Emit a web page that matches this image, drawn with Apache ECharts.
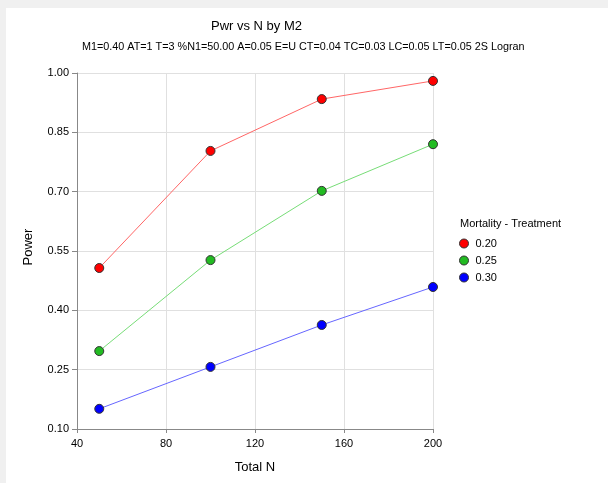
<!DOCTYPE html>
<html><head><meta charset="utf-8">
<script src="https://cdn.jsdelivr.net/npm/echarts@6/dist/echarts.min.js"></script>
<style>html,body{margin:0;padding:0;background:#f0f0f0;}#c{width:608px;height:483px;}</style>
</head><body><div id="c"></div>
<script>
const xValues = [50, 100, 150, 200];
const seriesNames = ['0.20', '0.25', '0.30'];
const power020 = [0.507, 0.803, 0.934, 0.980];
const power025 = [0.297, 0.527, 0.702, 0.820];
const power030 = [0.151, 0.257, 0.363, 0.459];
const colors = ['#ff0000', '#22bb22', '#0000ff'];
const lineColors = ['#ff6666', '#77dd77', '#6666ff'];
const allData = [power020, power025, power030];

const chart = echarts.init(document.getElementById('c'));
const font = 'Liberation Sans, Arial, sans-serif';
chart.setOption({
  backgroundColor: '#f0f0f0',
  animation: false,
  graphic: [
    {type:'rect', z:-10, shape:{x:6,y:8,width:602,height:475}, style:{fill:'#ffffff'}},
    {type:'text', left: 460, top: 218, style:{text:'Mortality - Treatment', font:'11px ' + font, fill:'#000'}},
    {type:'text', x: 28, y: 247, rotation: Math.PI/2, style:{text:'Power', font:'13px ' + font, fill:'#000', align:'center', verticalAlign:'middle'}}
  ],
  title: [
    {text:'Pwr vs N by M2', top:20, left:211, padding:0, textStyle:{fontFamily:font, fontSize:13, fontWeight:'normal', color:'#000'}},
    {text:'M1=0.40 AT=1 T=3 %N1=50.00 A=0.05 E=U CT=0.04 TC=0.03 LC=0.05 LT=0.05 2S Logran', top:42, left:82, padding:0, textStyle:{fontFamily:font, fontSize:10.8, fontWeight:'normal', color:'#000'}}
  ],
  legend: {
    orient:'vertical', left:459, top:238, itemWidth:9, itemHeight:9, itemGap:6, padding:0,
    icon:'circle',
    textStyle:{fontFamily:font, fontSize:11, color:'#000', padding:[0,0,0,2]},
    data: seriesNames.map((n,i)=>({name:n, itemStyle:{color:colors[i], borderColor:'#333', borderWidth:1}}))
  },
  grid: {left:77, right:175, top:73, bottom:54},
  xAxis: {
    type:'value', min:40, max:200, interval:40,
    name:'Total N', nameLocation:'middle', nameGap:32,
    nameTextStyle:{fontFamily:font, fontSize:13, color:'#000'},
    axisLine:{lineStyle:{color:'#888'}},
    axisTick:{show:true, length:4, lineStyle:{color:'#888'}},
    axisLabel:{fontFamily:font, fontSize:11, color:'#000', margin:9},
    splitLine:{show:true, lineStyle:{color:'#e0e0e0', width:1}}
  },
  yAxis: {
    type:'value', min:0.10, max:1.00, interval:0.15,
    axisLine:{show:true, lineStyle:{color:'#888'}},
    axisTick:{show:true, length:5, lineStyle:{color:'#888'}},
    axisLabel:{fontFamily:font, fontSize:11, color:'#000', margin:8, formatter:v=>v.toFixed(2)},
    splitLine:{show:true, lineStyle:{color:'#e0e0e0', width:1}}
  },
  series: allData.map((d,i)=>({
    name: seriesNames[i], type:'line',
    data: d.map((v,j)=>[xValues[j], v]),
    symbol:'circle', symbolSize:9,
    lineStyle:{color:lineColors[i], width:1},
    itemStyle:{color:colors[i], borderColor:'#333', borderWidth:1}
  }))
});
</script></body></html>
